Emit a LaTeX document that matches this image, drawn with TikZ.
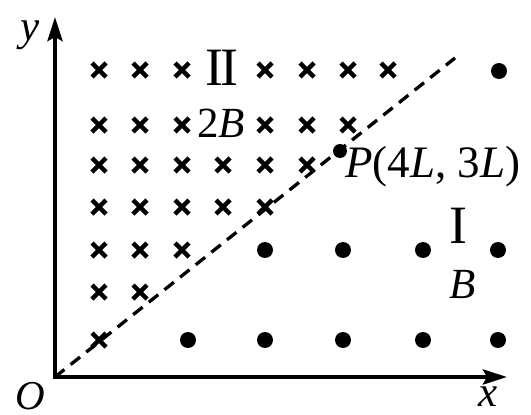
\documentclass[tikz,border=0pt]{standalone}
\usepackage{fontspec}
\setmainfont{Liberation Serif}
\usetikzlibrary{arrows.meta}
\begin{document}
\begin{tikzpicture}[x=1pt,y=-1pt,
  axis/.style={line width=4.2pt,{Stealth[length=24pt,width=15pt,inset=4pt]}-{Stealth[length=24pt,width=15pt,inset=4pt]}},
  lbl/.style={inner sep=0pt,font=\fontsize{43}{43}\selectfont},
  roman/.style={inner sep=0pt,font=\fontsize{54}{54}\selectfont},
  crossmark/.style={line width=4.3pt},
  fielddot/.style={circle,fill=black,inner sep=0pt,minimum size=16pt},
  pdot/.style={circle,fill=black,inner sep=0pt,minimum size=14pt},
  guide/.style={line width=3.3pt,dash pattern=on 12pt off 8pt}]
\useasboundingbox (0,0) rectangle (531,415);
% axes
\coordinate (O) at (55,377);
\coordinate (xend) at (507,377);
\coordinate (yend) at (55,17);
\coordinate (dend) at (455,58);
\draw[axis,line join=miter] (yend) -- (O) -- (xend);
% dashed line
\draw[guide] (O) -- (dend);
% crosses
\foreach \y/\cols in {70/{99,140,182,265,307,348,388},
                      125/{99,140,182,265,307,348},
                      165/{99,140,182,223,265,307},
                      207/{99,140,182,223,265},
                      250/{99,140,182},
                      292/{99,140},
                      340/{99}} {
  \foreach \x in \cols {
    \draw[crossmark] (\x-7,\y-7) -- ++(14,14) (\x-7,\y+7) -- ++(14,-14);
  }
}
% dots
\node[fielddot] (d1) at (499,71) {};
\foreach \x [count=\i] in {265,343,423,498} {
  \node[fielddot] (da\i) at (\x,250) {};
}
\foreach \x [count=\i] in {188,265,343,423,498} {
  \node[fielddot] (db\i) at (\x,340) {};
}
% point P
\node[pdot] (P) at (340,151) {};
\node[lbl,anchor=base west,font=\fontsize{45}{45}\selectfont] (Plabel) at (345,177) {\textit{P}(4\textit{L}, 3\textit{L})};
% labels
\node[lbl] (ylab) at (30,35) {\textit{y}};
\node[lbl,font=\fontsize{41}{41}\selectfont] (Olab) at (30,396) {\textit{O}};
\node[lbl] (xlab) at (488,397) {\textit{x}};
\node[lbl,anchor=base west] (twoB) at (197,137) {2\textit{B}};
\node[lbl,anchor=base west] (oneB) at (449,298) {\textit{B}};
\node[roman] (regII) at (222,68) {I\kern-0.06em I};
\node[roman] (regI) at (458,226) {I};
\end{tikzpicture}
\end{document}
